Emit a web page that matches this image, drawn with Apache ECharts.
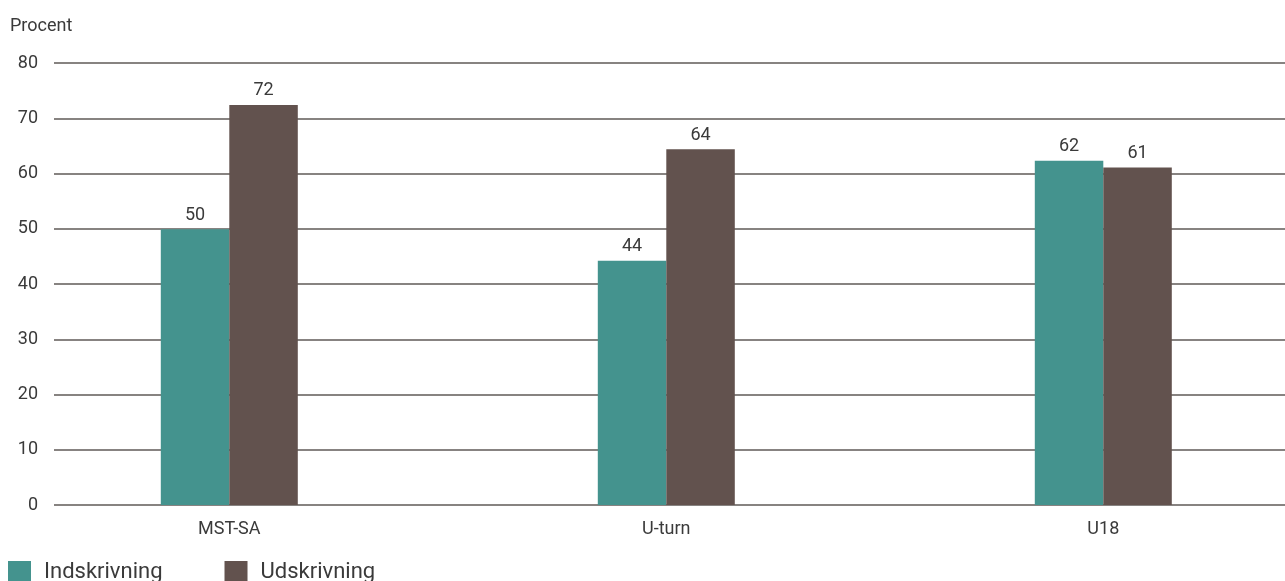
<!DOCTYPE html>
<html>
<head>
<meta charset="utf-8">
<script src="https://cdn.jsdelivr.net/npm/echarts@6/dist/echarts.min.js"></script>
<style>
  html, body { margin: 0; padding: 0; background: #fff; }
  #chart { width: 1285px; height: 581px; }
</style>
</head>
<body>
<div id="chart"></div>
<script>
const categories = ['MST-SA', 'U-turn', 'U18'];
const indskrivning = [49.9, 44.2, 62.3];
const udskrivning = [72.4, 64.4, 61.1];
const yTicks = [0, 10, 20, 30, 40, 50, 60, 70, 80];
const seriesNames = ['Indskrivning', 'Udskrivning'];

const FONT = 'Roboto, "DejaVu Sans", sans-serif';
const TXT = '#3a3a3a';
const chart = echarts.init(document.getElementById('chart'), null, { renderer: 'canvas' });

const labelOpt = {
  show: true, position: 'top', distance: 5,
  fontFamily: FONT, fontSize: 18, color: TXT,
  formatter: p => Math.round(p.value)
};

chart.setOption({
  animation: false,
  backgroundColor: '#fff',
  textStyle: { fontFamily: FONT },
  graphic: [{
    type: 'text', left: 10, top: 17,
    style: { text: 'Procent', fontFamily: FONT, fontSize: 18, fill: TXT }
  }],
  legend: {
    left: 8, top: 561, padding: 0,
    itemWidth: 31, itemHeight: 22, itemGap: 62,
    icon: 'path://M0,0h23v22h-23z M31,0h0.001v0.001h-0.001z',
    textStyle: { fontFamily: FONT, fontSize: 22, color: TXT },
    data: seriesNames
  },
  grid: [
    { left: 54, right: 0, top: 63, bottom: 76, outerBoundsMode: 'none', containLabel: false },
    { left: 10.8, width: 1311, top: 63, bottom: 76, outerBoundsMode: 'none', containLabel: false }
  ],
  xAxis: [
    { type: 'category', gridIndex: 0, show: false, data: categories },
    {
      type: 'category', gridIndex: 1, data: categories,
      axisLine: { show: false }, axisTick: { show: false },
      axisLabel: { fontFamily: FONT, fontSize: 18, color: TXT, margin: 15 }
    }
  ],
  yAxis: [
    {
      type: 'value', gridIndex: 0, min: yTicks[0], max: yTicks[yTicks.length - 1], interval: 10,
      axisLine: { show: false }, axisTick: { show: false },
      axisLabel: { fontFamily: FONT, fontSize: 18, color: TXT, margin: 16 },
      splitLine: { show: true, lineStyle: { color: '#5f5a57', width: 1.5 } }
    },
    {
      type: 'value', gridIndex: 1, min: yTicks[0], max: yTicks[yTicks.length - 1], interval: 10,
      show: false, splitLine: { show: false }
    }
  ],
  series: [
    {
      name: seriesNames[0], type: 'bar', xAxisIndex: 1, yAxisIndex: 1,
      data: indskrivning, barWidth: 68.5, barGap: '0%',
      itemStyle: { color: '#44938e' }, label: labelOpt
    },
    {
      name: seriesNames[1], type: 'bar', xAxisIndex: 1, yAxisIndex: 1,
      data: udskrivning, barWidth: 68.5, barGap: '0%',
      itemStyle: { color: '#62524e' }, label: labelOpt
    }
  ]
});
</script>
</body>
</html>
